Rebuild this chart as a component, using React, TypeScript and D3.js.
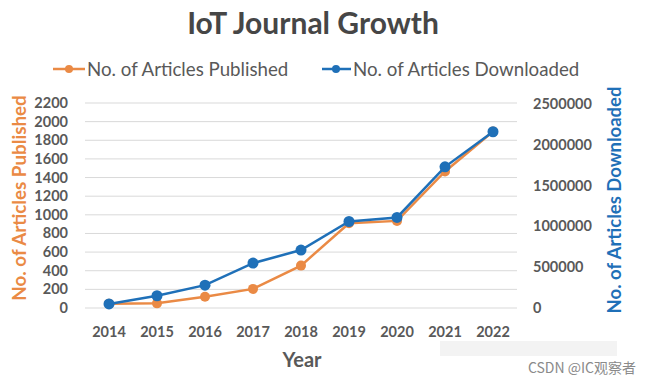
import React from "react";
import * as d3 from "d3";

const years = ["2014", "2015", "2016", "2017", "2018", "2019", "2020", "2021", "2022"];
const published = [45, 50, 120, 205, 455, 910, 935, 1465, 1895];
const downloaded = [50000, 150000, 280000, 550000, 710000, 1060000, 1110000, 1730000, 2160000];
const leftTicks = [0, 200, 400, 600, 800, 1000, 1200, 1400, 1600, 1800, 2000, 2200];
const rightTicks = [0, 500000, 1000000, 1500000, 2000000, 2500000];

const W = 650, H = 383;
const ORANGE = "#EA8A45";
const BLUE = "#1F70B8";
const GRAY = "#595959";
const FONT = "Lato, 'Open Sans', sans-serif";

export default function App() {
  const x = d3.scalePoint<string>().domain(years).range([85, 517]).padding(0.5);
  const yL = d3.scaleLinear().domain([0, 2200]).range([308, 103]);
  const yR = d3.scaleLinear().domain([0, 2500000]).range([308, 104]);

  const linePub = d3.line<number>().x((_, i) => x(years[i])!).y((d) => yL(d));
  const lineDl = d3.line<number>().x((_, i) => x(years[i])!).y((d) => yR(d));

  return (
    <svg width={W} height={H} style={{ display: "block", position: "absolute", left: 0, top: 0, background: "#fff" }} fontFamily={FONT}>
      <rect width={W} height={H} fill="#fff" />
      <text x={313} y={34} textAnchor="middle" fontSize={30} fontWeight="bold" fill="#464646">IoT Journal Growth</text>

      {/* legend */}
      <g>
        <line x1={53} x2={85} y1={69} y2={69} stroke={ORANGE} strokeWidth={2.5} />
        <circle cx={69} cy={69} r={4} fill={ORANGE} />
        <text x={87} y={76} fontSize={18.7} fill={GRAY}>No. of Articles Published</text>
        <line x1={322} x2={351} y1={69} y2={69} stroke={BLUE} strokeWidth={2.5} />
        <circle cx={336} cy={69} r={4} fill={BLUE} />
        <text x={353} y={76} fontSize={18.7} fill={GRAY}>No. of Articles Downloaded</text>
      </g>

      {/* gridlines */}
      {leftTicks.map((t) => (
        <line key={t} x1={85} x2={517} y1={yL(t)} y2={yL(t)} stroke="#D9D9D9" strokeWidth={1} />
      ))}

      {/* left ticks */}
      {leftTicks.map((t) => (
        <text key={t} x={68} y={yL(t) + 5} textAnchor="end" fontSize={14.5} fontWeight="bold" fill={GRAY}>{t}</text>
      ))}
      {/* right ticks */}
      {rightTicks.map((t) => (
        <text key={t} x={533} y={yR(t) + 5} textAnchor="start" fontSize={14.5} fontWeight="bold" fill={GRAY}>{t}</text>
      ))}
      {/* x ticks */}
      {years.map((yv) => (
        <text key={yv} x={x(yv)!} y={337} textAnchor="middle" fontSize={14.5} fontWeight="bold" fill={GRAY}>{yv}</text>
      ))}

      <text x={302} y={367} textAnchor="middle" fontSize={20} fontWeight="bold" fill={GRAY}>Year</text>
      <text transform="translate(26,198) rotate(-90)" textAnchor="middle" fontSize={18.8} fontWeight="bold" fill={ORANGE}>No. of Articles Published</text>
      <text transform="translate(621,200) rotate(-90)" textAnchor="middle" fontSize={18.5} fontWeight="bold" fill={BLUE}>No. of Articles Downloaded</text>

      {/* series */}
      <path d={linePub(published)!} fill="none" stroke={ORANGE} strokeWidth={2.5} />
      {published.map((v, i) => (
        <circle key={i} cx={x(years[i])!} cy={yL(v)} r={5} fill={ORANGE} />
      ))}
      <path d={lineDl(downloaded)!} fill="none" stroke={BLUE} strokeWidth={2.5} />
      {downloaded.map((v, i) => (
        <circle key={i} cx={x(years[i])!} cy={yR(v)} r={5.5} fill={BLUE} />
      ))}

      <rect x={440} y={341} width={177} height={15} fill="#f3f3f3" />
      <text x={636} y={373} textAnchor="end" fontSize={14} fill="#8a8a8a" fontFamily="'Noto Sans CJK SC', sans-serif">CSDN @IC观察者</text>
    </svg>
  );
}
